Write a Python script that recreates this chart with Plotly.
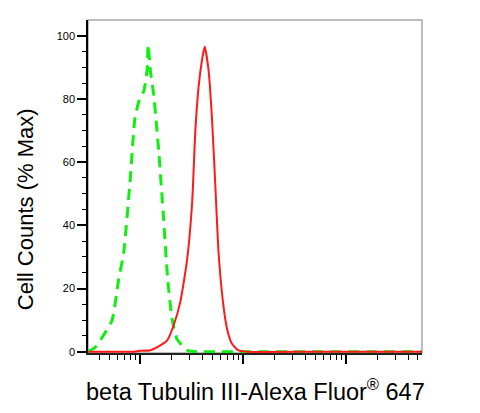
import plotly.graph_objects as go

# Isotype control (green dashed) - fluorescence intensity vs % max
green_x = [3.08, 3.66, 4.57, 5.31, 6.15, 6.88, 8.0, 8.81, 9.85, 10.76, 11.6, 11.88,
           12.5, 13.5, 15.1, 16.8, 18.4, 20.3, 22.7, 28.4, 34.2, 60, 200, 800, 2000, 5470]
green_y = [0.0, 1.5, 6.2, 10.0, 23.0, 31.5, 55.6, 73.5, 80.3, 82.4, 89.0, 97.2,
           89.0, 81.0, 63.0, 42.0, 23.0, 10.4, 4.0, 0.5, 0.0, 0.0, 0.0, 0.0, 0.0, 0.0]

# beta Tubulin III stained (red solid)
red_x = [3.13, 8.3, 10.0, 12.5, 15.6, 18.2, 21.0, 24.4, 28.4, 31.8, 34.2, 36.8, 39.7,
         42.1, 46.0, 49.7, 53.5, 57.5, 63.5, 69.5, 77.7, 90.0, 108.7, 500, 2000, 5470]
red_y = [0.0, 0.0, 0.3, 0.5, 2.0, 3.6, 8.3, 15.7, 29.0, 47.0, 70.0, 84.0, 92.4,
         96.6, 89.0, 73.5, 52.5, 31.5, 15.7, 7.3, 2.5, 0.4, 0.0, 0.0, 0.0, 0.0]

y_ticks = [0, 20, 40, 60, 80, 100]
y_minor = [v for v in range(5, 105, 5) if v % 20 != 0]
x_major = [10, 100, 1000]
x_minor = [4, 5, 6, 7, 8, 9] + [k * 10 for k in range(2, 10)] + \
          [k * 100 for k in range(2, 10)] + [k * 1000 for k in range(2, 6)]

x_title = "beta Tubulin III-Alexa Fluor<sup>®</sup> 647"
y_title = "Cell Counts (% Max)"

font = "Arial, Liberation Sans, sans-serif"

fig = go.Figure()
fig.add_trace(go.Scatter(x=green_x, y=green_y, mode="lines",
                         line=dict(color="#11ee11", width=3, dash="11px,7px", shape="spline", smoothing=0.5),
                         showlegend=False))
fig.add_trace(go.Scatter(x=red_x, y=red_y, mode="lines",
                         line=dict(color="#ff1a1a", width=2, shape="spline", smoothing=0.5),
                         showlegend=False))

fig.update_layout(
    width=464, height=397,
    margin=dict(l=80, r=50, t=12, b=52),
    paper_bgcolor="white", plot_bgcolor="white",
    font=dict(family=font, color="black"),
    shapes=[dict(type="rect", xref="paper", yref="paper", x0=0, x1=1, y0=0, y1=1,
                 line=dict(color="#a8a8a8", width=1.5), layer="below")],
    annotations=[
        dict(text=x_title, xref="paper", yref="paper", x=0.5, y=-0.06,
             xanchor="center", yanchor="top", showarrow=False,
             font=dict(size=23.5, family=font, color="black")),
        dict(text=y_title, xref="paper", yref="paper", x=-0.1886, y=0.432,
             xanchor="center", yanchor="middle", textangle=-90, showarrow=False,
             font=dict(size=22, family=font, color="black")),
    ],
)

fig.update_xaxes(type="log", range=[0.49, 3.738], showgrid=False, zeroline=False,
                 showline=True, linecolor="#222", linewidth=1.5,
                 tickmode="array", tickvals=x_major, showticklabels=False,
                 ticks="outside", ticklen=9, tickwidth=2, tickcolor="black",
                 minor=dict(tickmode="array", tickvals=x_minor, ticks="outside",
                            ticklen=5, tickwidth=1.2, tickcolor="black", showgrid=False))

fig.update_yaxes(range=[-0.4, 105], showgrid=False, zeroline=False,
                 showline=True, linecolor="black", linewidth=1.5,
                 tickmode="array", tickvals=y_ticks, ticktext=[str(v) for v in y_ticks],
                 ticks="outside", ticklen=9, tickwidth=1.5, tickcolor="black",
                 tickfont=dict(size=11, family=font, color="black"),
                 minor=dict(tickmode="array", tickvals=y_minor, ticks="outside",
                            ticklen=4, tickwidth=1, tickcolor="black", showgrid=False))

fig.write_html("out.html")
